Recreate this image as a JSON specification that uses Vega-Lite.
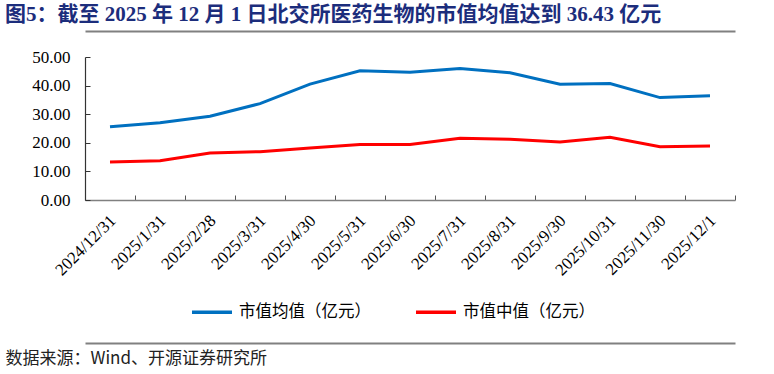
{
  "$schema": "https://vega.github.io/schema/vega-lite/v6.json",
  "width": 650,
  "height": 143,
  "autosize": {"type": "none"},
  "padding": {"left": 85, "top": 57, "right": 39, "bottom": 174},
  "background": "white",
  "title": {
    "text": "图5：截至 2025 年 12 月 1 日北交所医药生物的市值均值达到 36.43 亿元",
    "anchor": "start",
    "frame": "group",
    "dx": -80,
    "offset": 6,
    "font": "Liberation Serif, Noto Sans CJK SC",
    "fontSize": 21,
    "fontWeight": "bold",
    "color": "#1c2d7c"
  },
  "data": {
    "values": [
      {"date": "2024/12/31", "series": "市值均值（亿元）", "value": 25.6},
      {"date": "2025/1/31", "series": "市值均值（亿元）", "value": 27.0},
      {"date": "2025/2/28", "series": "市值均值（亿元）", "value": 29.3},
      {"date": "2025/3/31", "series": "市值均值（亿元）", "value": 33.7},
      {"date": "2025/4/30", "series": "市值均值（亿元）", "value": 40.5},
      {"date": "2025/5/31", "series": "市值均值（亿元）", "value": 45.2},
      {"date": "2025/6/30", "series": "市值均值（亿元）", "value": 44.7},
      {"date": "2025/7/31", "series": "市值均值（亿元）", "value": 46.0},
      {"date": "2025/8/31", "series": "市值均值（亿元）", "value": 44.5},
      {"date": "2025/9/30", "series": "市值均值（亿元）", "value": 40.5},
      {"date": "2025/10/31", "series": "市值均值（亿元）", "value": 40.7},
      {"date": "2025/11/30", "series": "市值均值（亿元）", "value": 35.8},
      {"date": "2025/12/1", "series": "市值均值（亿元）", "value": 36.43},
      {"date": "2024/12/31", "series": "市值中值（亿元）", "value": 13.25},
      {"date": "2025/1/31", "series": "市值中值（亿元）", "value": 13.7},
      {"date": "2025/2/28", "series": "市值中值（亿元）", "value": 16.4},
      {"date": "2025/3/31", "series": "市值中值（亿元）", "value": 16.9},
      {"date": "2025/4/30", "series": "市值中值（亿元）", "value": 18.2},
      {"date": "2025/5/31", "series": "市值中值（亿元）", "value": 19.4},
      {"date": "2025/6/30", "series": "市值中值（亿元）", "value": 19.4},
      {"date": "2025/7/31", "series": "市值中值（亿元）", "value": 21.6},
      {"date": "2025/8/31", "series": "市值中值（亿元）", "value": 21.2},
      {"date": "2025/9/30", "series": "市值中值（亿元）", "value": 20.3},
      {"date": "2025/10/31", "series": "市值中值（亿元）", "value": 21.9},
      {"date": "2025/11/30", "series": "市值中值（亿元）", "value": 18.6},
      {"date": "2025/12/1", "series": "市值中值（亿元）", "value": 18.9}
    ]
  },
  "resolve": {"axis": {"x": "independent"}},
  "layer": [
    {
      "mark": {"type": "line", "strokeWidth": 3},
      "encoding": {
        "x": {
          "field": "date",
          "type": "ordinal",
          "sort": null,
          "scale": {"paddingInner": 0, "paddingOuter": 0},
          "axis": {
            "orient": "bottom",
            "labelAngle": -45,
            "labelPadding": 17,
            "labelOffset": -3,
            "tickBand": "extent",
            "tickSize": -5,
            "tickColor": "#555",
            "domainColor": "#808080",
            "domainWidth": 1.5,
            "title": "数据来源：Wind、开源证券研究所",
            "titleX": -80,
            "titleY": 158,
            "titleAlign": "left",
            "titleAnchor": "start",
            "titleBaseline": "middle",
            "titleFont": "Noto Sans CJK SC",
            "titleFontSize": 17,
            "titleFontWeight": "normal",
            "titleColor": "#222"
          }
        },
        "y": {
          "field": "value",
          "type": "quantitative",
          "scale": {"domain": [0, 50]},
          "axis": {
            "values": [0, 10, 20, 30, 40, 50],
            "format": ".2f",
            "grid": false,
            "title": null,
            "tickSize": -5,
            "tickColor": "#333",
            "domainColor": "#333",
            "domainWidth": 1.2,
            "labelPadding": 20
          }
        },
        "color": {
          "field": "series",
          "type": "nominal",
          "sort": ["市值均值（亿元）", "市值中值（亿元）"],
          "scale": {"range": ["#0070C0", "#FF0000"]},
          "legend": {
            "title": null,
            "orient": "none",
            "legendX": 105,
            "legendY": 233,
            "direction": "horizontal",
            "symbolType": "stroke",
            "symbolSize": 1600,
            "symbolStrokeWidth": 3.5,
            "labelFont": "Noto Sans CJK SC",
            "labelFontSize": 16.5,
            "labelColor": "#000",
            "columnPadding": 38,
            "labelOffset": 5
          }
        }
      }
    },
    {
      "mark": {"type": "line", "opacity": 0},
      "encoding": {
        "x": {
          "field": "date",
          "type": "ordinal",
          "sort": null,
          "axis": {
            "orient": "top",
            "offset": 26,
            "labels": false,
            "ticks": false,
            "title": null,
            "domainColor": "#808080",
            "domainWidth": 2
          }
        },
        "y": {
          "field": "value",
          "type": "quantitative",
          "axis": {
            "values": [0, 10, 20, 30, 40, 50],
            "format": ".2f",
            "grid": false,
            "title": null,
            "tickSize": -5,
            "tickColor": "#333",
            "domainColor": "#333",
            "domainWidth": 1.2,
            "labelPadding": 20
          }
        },
        "detail": {"field": "series"}
      }
    },
    {
      "mark": {"type": "line", "opacity": 0},
      "encoding": {
        "x": {
          "field": "date",
          "type": "ordinal",
          "sort": null,
          "axis": {
            "orient": "bottom",
            "offset": 143,
            "labels": false,
            "ticks": false,
            "title": null,
            "domainColor": "#808080",
            "domainWidth": 2
          }
        },
        "y": {
          "field": "value",
          "type": "quantitative",
          "axis": {
            "values": [0, 10, 20, 30, 40, 50],
            "format": ".2f",
            "grid": false,
            "title": null,
            "tickSize": -5,
            "tickColor": "#333",
            "domainColor": "#333",
            "domainWidth": 1.2,
            "labelPadding": 20
          }
        },
        "detail": {"field": "series"}
      }
    }
  ],
  "config": {
    "view": {"stroke": null},
    "axisX": {"labelFont": "Liberation Serif", "labelFontSize": 17, "labelColor": "#000"},
    "axisY": {"labelFont": "Liberation Serif", "labelFontSize": 17, "labelColor": "#000", "labelOverlap": false}
  }
}
